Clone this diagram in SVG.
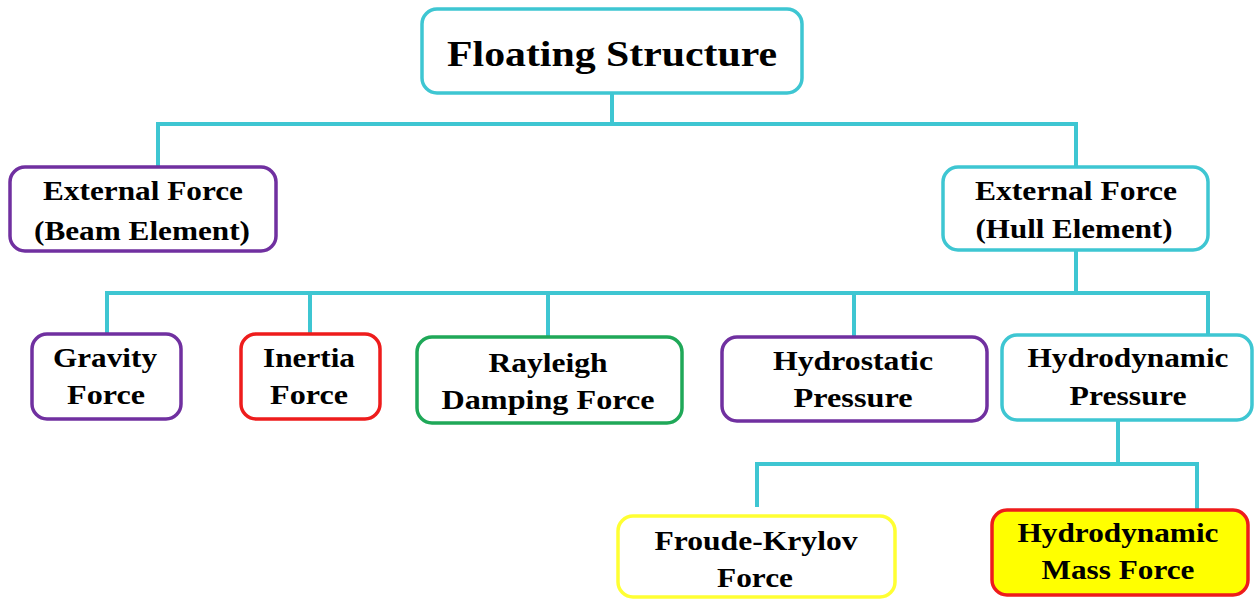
<svg xmlns="http://www.w3.org/2000/svg" width="1255" height="599" viewBox="0 0 1255 599">
<style>
.box{fill:#fff;stroke-width:3.5}
.cy{stroke:#3ec6d2}
.pu{stroke:#7030a0}
.rd{stroke:#ee1c1c}
.gr{stroke:#1fa858}
.ye{stroke:#ffff33}
.t{font-family:"Liberation Serif","Times New Roman",serif;font-weight:bold;fill:#000;text-anchor:middle;font-size:27px}
.h{font-size:36px}
.conn{fill:none;stroke:#3ec6d2;stroke-width:4}
</style>
<rect width="1255" height="599" fill="#fff"/>
<g id="connectors">
<path class="conn" d="M612 93V124M158 167V124H1076V167"/>
<path class="conn" d="M1076 250V293M107 334V293H1208V335M310 293V334M548 293V337M854 293V337"/>
<path class="conn" d="M1118 420V464M757 507V464H1197V510"/>
</g>
<g id="floating-structure">
<rect class="box cy" x="422" y="9" width="380" height="84" rx="15"/>
<text class="t h" x="612" y="66" textLength="330" lengthAdjust="spacingAndGlyphs">Floating Structure</text>
</g>
<g id="beam-element">
<rect class="box pu" x="10" y="167" width="266" height="84" rx="15"/>
<text class="t" x="143" y="200" textLength="200" lengthAdjust="spacingAndGlyphs">External Force</text>
<text class="t" x="142" y="240" textLength="216" lengthAdjust="spacingAndGlyphs">(Beam Element)</text>
</g>
<g id="hull-element">
<rect class="box cy" x="943" y="167" width="265" height="83" rx="15"/>
<text class="t" x="1076" y="200" textLength="202" lengthAdjust="spacingAndGlyphs">External Force</text>
<text class="t" x="1074" y="238" textLength="197" lengthAdjust="spacingAndGlyphs">(Hull Element)</text>
</g>
<g id="gravity">
<rect class="box pu" x="32" y="334" width="149" height="85" rx="15"/>
<text class="t" x="105" y="367" textLength="104" lengthAdjust="spacingAndGlyphs">Gravity</text>
<text class="t" x="106" y="404" textLength="78" lengthAdjust="spacingAndGlyphs">Force</text>
</g>
<g id="inertia">
<rect class="box rd" x="241" y="334" width="139" height="85" rx="15"/>
<text class="t" x="309" y="367" textLength="92" lengthAdjust="spacingAndGlyphs">Inertia</text>
<text class="t" x="309" y="404" textLength="78" lengthAdjust="spacingAndGlyphs">Force</text>
</g>
<g id="rayleigh">
<rect class="box gr" x="417" y="337" width="265" height="86" rx="15"/>
<text class="t" x="548" y="372" textLength="119" lengthAdjust="spacingAndGlyphs">Rayleigh</text>
<text class="t" x="548" y="409" textLength="213" lengthAdjust="spacingAndGlyphs">Damping Force</text>
</g>
<g id="hydrostatic">
<rect class="box pu" x="722" y="337" width="265" height="84" rx="15"/>
<text class="t" x="853" y="370" textLength="160" lengthAdjust="spacingAndGlyphs">Hydrostatic</text>
<text class="t" x="853" y="407" textLength="119" lengthAdjust="spacingAndGlyphs">Pressure</text>
</g>
<g id="hydrodynamic">
<rect class="box cy" x="1002" y="335" width="250" height="85" rx="15"/>
<text class="t" x="1128" y="367" textLength="201" lengthAdjust="spacingAndGlyphs">Hydrodynamic</text>
<text class="t" x="1128" y="405" textLength="117" lengthAdjust="spacingAndGlyphs">Pressure</text>
</g>
<g id="froude-krylov">
<rect class="box ye" x="618" y="516" width="277" height="81" rx="15"/>
<text class="t" x="756" y="550" textLength="203" lengthAdjust="spacingAndGlyphs">Froude-Krylov</text>
<text class="t" x="755" y="587" textLength="76" lengthAdjust="spacingAndGlyphs">Force</text>
</g>
<g id="hydrodynamic-mass">
<rect class="box rd" x="992" y="510" width="256" height="85" rx="15" style="fill:#ffff00"/>
<text class="t" x="1118" y="542" textLength="201" lengthAdjust="spacingAndGlyphs">Hydrodynamic</text>
<text class="t" x="1118" y="579" textLength="153" lengthAdjust="spacingAndGlyphs">Mass Force</text>
</g>
</svg>
